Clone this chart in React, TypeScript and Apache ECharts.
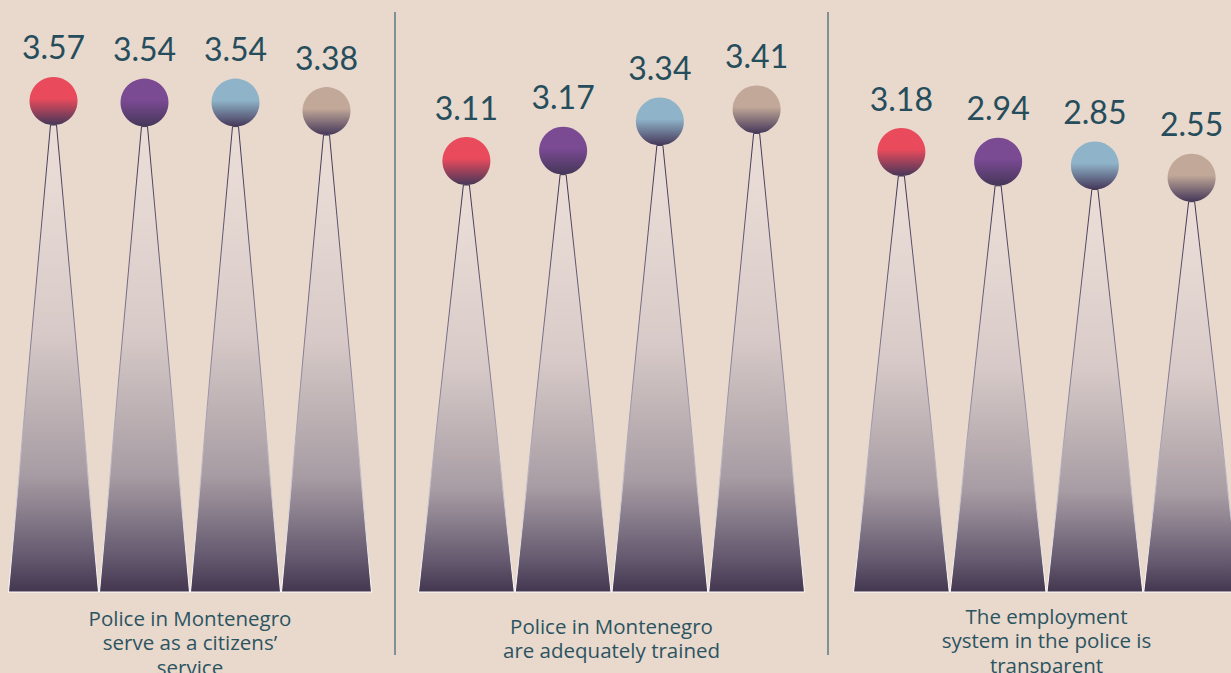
import React, { useEffect, useRef } from "react";
import * as echarts from "echarts";

// ---- data ----
const panelTitles = [
  "Police in Montenegro\nserve as a citizens’\nservice",
  "Police in Montenegro\nare adequately trained",
  "The employment\nsystem in the police is\ntransparent",
];
const groupIndex = ["1", "2", "3", "4"];
const panel1Values = [3.57, 3.54, 3.54, 3.38];
const panel2Values = [3.11, 3.17, 3.34, 3.41];
const panel3Values = [3.18, 2.94, 2.85, 2.55];
const groupColors = ["#e94b5c", "#7a4a93", "#8fb4c9", "#c1a898"];

// ---- layout / style ----
const BG = "#e9d8cc";
const TEXT = "#264d5b";
const FONT = "Lato, 'Open Sans', sans-serif";
const LABEL_FONT = "'Open Sans', Lato, sans-serif";
const R = 24;
const W = 1250; // canvas a bit wider than the window: last panel runs past the edge
const H = 673;

const panels = [
  { values: panel1Values, left: 8, right: W - 372, min: -5.24, max: 5.928, labelY: 642 },
  { values: panel2Values, left: 418, right: W - 805, min: 0.7437, max: 4.1856, labelY: 638 },
  { values: panel3Values, left: 853, right: W - 1240, min: -7.016, max: 7.494, labelY: 640 },
];

function makeRenderItem(minV: number) {
  return (params: any, api: any) => {
    const i = params.dataIndex;
    const v = api.value(1);
    const tip = api.coord([api.value(0), v]);
    const base = api.coord([api.value(0), minV]);
    const bw = api.size([1, 0])[0];
    const cx = tip[0];
    const half = bw / 2 - 0.5;
    const color = groupColors[i % groupColors.length];
    const cy = tip[1] - R;
    return {
      type: "group",
      children: [
        {
          type: "polygon",
          shape: {
            points: [
              [cx - 3, tip[1]],
              [cx + 3, tip[1]],
              [cx + half, base[1]],
              [cx - half, base[1]],
            ],
          },
          style: {
            fill: {
              type: "linear",
              x: 0, y: 0, x2: 0, y2: 1,
              colorStops: [
                { offset: 0, color: "rgba(236,224,220,0.6)" },
                { offset: 0.45, color: "#d6c9c7" },
                { offset: 0.75, color: "#a79ca3" },
                { offset: 0.92, color: "#665b70" },
                { offset: 1, color: "#42374f" },
              ],
            },
            stroke: {
              type: "linear",
              x: 0, y: 0, x2: 0, y2: 1,
              colorStops: [
                { offset: 0, color: "#3f3553" },
                { offset: 0.5, color: "#8a8299" },
                { offset: 1, color: "#ffffff" },
              ],
            },
            lineWidth: 1,
          },
        },
        {
          type: "circle",
          shape: { cx, cy, r: R },
          style: {
            fill: {
              type: "linear",
              x: 0, y: 0, x2: 0, y2: 1,
              colorStops: [
                { offset: 0, color },
                { offset: 0.45, color },
                { offset: 1, color: "#453759" },
              ],
            },
          },
        },
        {
          type: "text",
          style: {
            text: v.toFixed(2),
            x: cx,
            y: cy - R - 14,
            align: "center",
            textAlign: "center",
            verticalAlign: "bottom",
            textVerticalAlign: "bottom",
            fontSize: 32,
            fontFamily: FONT,
            fill: TEXT,
          },
        },
      ],
    };
  };
}

export default function App() {
  const ref = useRef<HTMLDivElement>(null);
  useEffect(() => {
    if (!ref.current) return;
    const chart = echarts.init(ref.current, undefined, { renderer: "svg" });
    const option: any = {
      animation: false,
      backgroundColor: BG,
      grid: panels.map((p) => ({ left: p.left, right: p.right, top: 0, bottom: 81 })),
      xAxis: panels.map((_, k) => ({
        type: "category",
        gridIndex: k,
        data: groupIndex,
        show: false,
      })),
      yAxis: panels.map((p, k) => ({
        type: "value",
        gridIndex: k,
        min: p.min,
        max: p.max,
        show: false,
        splitLine: { show: false },
      })),
      series: panels.map((p, k) => ({
        type: "custom",
        xAxisIndex: k,
        yAxisIndex: k,
        clip: false,
        renderItem: makeRenderItem(p.min),
        data: p.values.map((v, i) => [i, v]),
      })),
      graphic: [
        { type: "line", shape: { x1: 395, y1: 12, x2: 395, y2: 655 }, style: { stroke: "#7f9196", lineWidth: 2 } },
        { type: "line", shape: { x1: 828, y1: 12, x2: 828, y2: 655 }, style: { stroke: "#7f9196", lineWidth: 2 } },
        ...panels.map((p, k) => ({
          type: "text",
          x: (p.left + (W - p.right)) / 2,
          y: p.labelY,
          style: {
            text: panelTitles[k],
            align: "center",
            textAlign: "center",
            verticalAlign: "middle",
            textVerticalAlign: "middle",
            fontSize: 20.5,
            lineHeight: 24.5,
            fontFamily: LABEL_FONT,
            fill: "#2b5461",
          },
        })),
      ],
    };
    chart.setOption(option);
    return () => chart.dispose();
  }, []);
  return (
    <div
      style={{ position: "fixed", left: 0, top: 0, width: 1231, height: H, overflow: "hidden", background: BG }}
    >
      <div ref={ref} style={{ width: W, height: H }} />
    </div>
  );
}
